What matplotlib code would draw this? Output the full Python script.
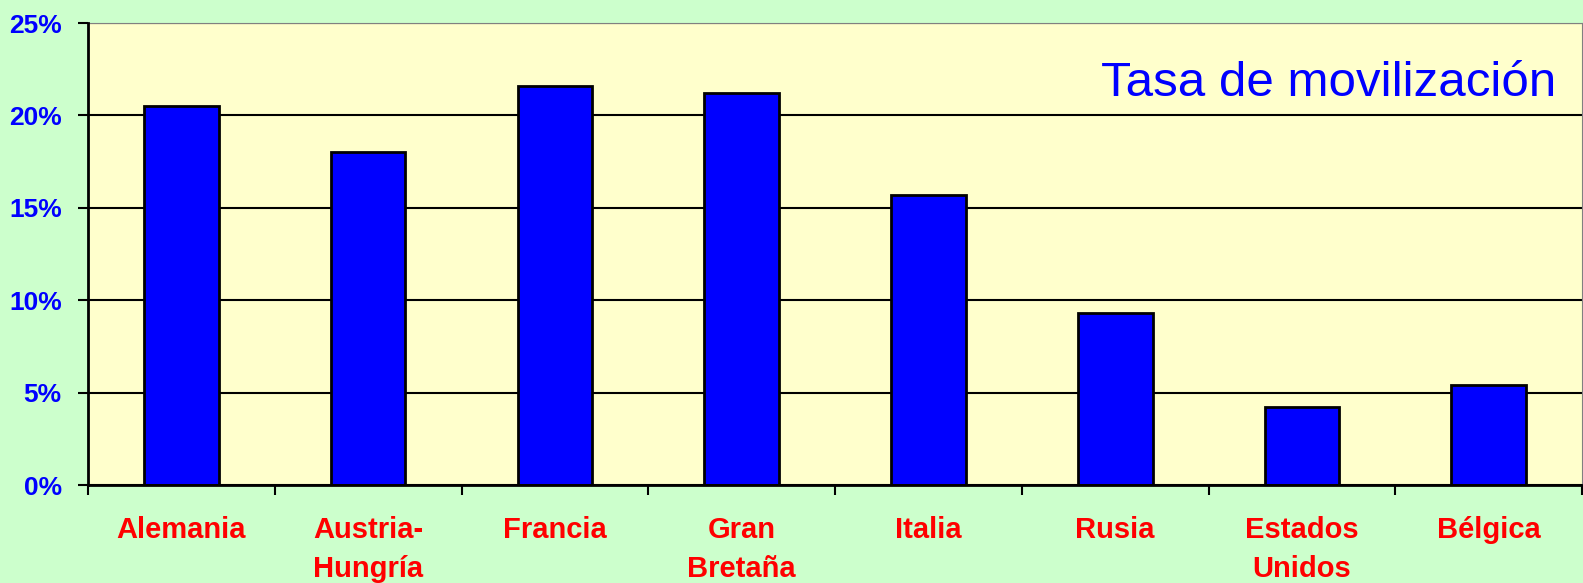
import matplotlib.pyplot as plt
from matplotlib.ticker import FuncFormatter, MultipleLocator

# Tasa de movilizacion (%) por pais
paises = ['Alemania', 'Austria-\nHungría', 'Francia', 'Gran\nBretaña',
          'Italia', 'Rusia', 'Estados\nUnidos', 'Bélgica']
tasa = [20.5, 18.0, 21.6, 21.2, 15.7, 9.3, 4.2, 5.4]

plt.rcParams['font.family'] = ['Liberation Sans', 'DejaVu Sans']

fig = plt.figure(figsize=(15.83, 5.83), dpi=100, facecolor='#CCFFCC')
ax = fig.add_axes([0.0556, 0.168, 0.9438, 0.7925])
ax.set_facecolor('#FFFFCC')

x = range(len(paises))
ax.bar(x, tasa, width=0.4, color='#0000FF', edgecolor='black', linewidth=2, zorder=3)

ax.set_ylim(0, 25)
ax.set_xlim(-0.5, len(paises) - 0.5)
ax.yaxis.set_major_locator(MultipleLocator(5))
ax.yaxis.set_major_formatter(FuncFormatter(lambda v, p: '%d%%' % v))
ax.grid(axis='y', color='black', linewidth=1.5, zorder=1)

# etiquetas en el centro, marcas entre categorias
ax.set_xticks(list(x))
ax.set_xticklabels(paises, color='red', fontweight='bold', fontsize=21, linespacing=1.5)
ax.set_xticks([i + 0.5 for i in range(-1, len(paises))], minor=True)
ax.tick_params(axis='x', which='major', length=0, pad=22)
ax.tick_params(axis='x', which='minor', length=7, width=1.5, color='black')
ax.tick_params(axis='y', length=7, width=1.5, labelsize=19, labelcolor='#0000FF', pad=12)
for lbl in ax.get_yticklabels():
    lbl.set_fontweight('bold')

ax.spines['left'].set_linewidth(2)
ax.spines['bottom'].set_linewidth(2)
ax.spines['top'].set_color('#808080')
ax.spines['right'].set_color('#808080')
ax.spines['left'].set_zorder(4)
ax.spines['bottom'].set_zorder(4)

ax.text(0.983, 0.87, 'Tasa de movilización', transform=ax.transAxes,
        ha='right', va='center', fontsize=35.5, color='#0000FF')

fig.savefig('out.png', dpi=100, facecolor=fig.get_facecolor())
